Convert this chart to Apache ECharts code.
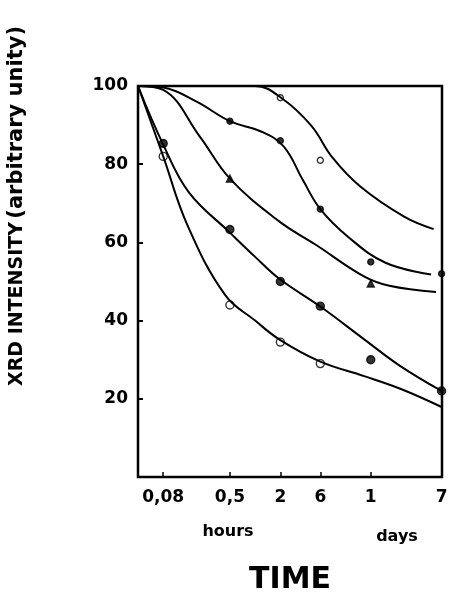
<!DOCTYPE html>
<html>
<head>
<meta charset="utf-8">
<script src="https://cdn.jsdelivr.net/npm/echarts@6/dist/echarts.min.js"></script>
<style>
  html, body { margin: 0; padding: 0; background: #fff; }
  #chart { width: 451px; height: 600px; }
</style>
</head>
<body>
<div id="chart"></div>
<script>
// XRD intensity vs time (log time axis, hours), five decay curves + measured points
const tickHours = [0.08, 0.5, 2, 6, 24, 168];
const tickLabels = ["0,08", "0,5", "2", "6", "1", "7"];

// curves: [hours, intensity]
const curveA = [[0.04, 100], [1, 100], [2.1, 96.8], [4.7, 89.8], [8.3, 81.8], [18, 74.3], [60, 66.6], [135, 63.4]];
const curveB = [[0.04, 100], [0.08, 99.6], [0.2, 96], [0.5, 91], [1.2, 88.3], [2.2, 84.5], [3.7, 76], [6, 68.5],
  [12.9, 61.4], [36, 54.8], [126, 51.8]];
const curveC = [[0.04, 100], [0.08, 99], [0.22, 87], [0.5, 76.3], [1.9, 65.5], [5.3, 59.4], [19.9, 51.3],
  [40, 48.9], [144, 47.3]];
const curveD = [[0.04, 100], [0.08, 85], [0.162, 72.8], [0.5, 62.5], [1, 56.3], [2, 50.5], [6, 43.6],
  [19.5, 35.4], [53, 28.5], [168, 22]];
const curveE = [[0.04, 100], [0.08, 82], [0.155, 64.5], [0.44, 46.5], [1, 40], [2, 35], [6, 29.5],
  [20, 25.8], [55, 22.5], [168, 17.9]];

// measured points
const markA = [[2, 97], [6, 81]];
const markB = [[0.5, 91], [2, 86], [6, 68.5], [24, 55], [168, 52]];
const markC = [[0.5, 76.3], [24, 49.5]];
const markD = [[0.08, 85.3], [0.5, 63.3], [2, 50], [6, 43.7], [24, 30], [168, 22]];
const markE = [[0.08, 82], [0.5, 44], [2, 34.5], [6, 29]];

const FONT = "DejaVu Sans";
const chart = echarts.init(document.getElementById("chart"));

function tickName(v) {
  const i = tickHours.findIndex(h => Math.abs(h - v) / h < 1e-3);
  return i < 0 ? "" : tickLabels[i];
}

const lineSeries = (data) => ({
  type: "line", data, smooth: 0.4, showSymbol: false, silent: true,
  lineStyle: { color: "#000", width: 2 },
});
const markSeries = (data, symbol, size, fill) => ({
  type: "scatter", data, symbol, symbolSize: size, silent: true,
  itemStyle: { color: fill, borderColor: "#000", borderWidth: 1.4 },
});

chart.setOption({
  animation: false,
  backgroundColor: "#fff",
  grid: { left: 138, right: 9, top: 86, bottom: 123, show: true, borderColor: "#000", borderWidth: 2.5 },
  xAxis: {
    type: "log", logBase: 10, min: 0.04, max: 170,
    axisLine: { show: false },
    splitLine: { show: false },
    axisTick: { show: true, inside: true, length: 5, customValues: tickHours.slice(0, 5), lineStyle: { color: "#000", width: 1.5 } },
    axisLabel: { customValues: tickHours, formatter: tickName, color: "#000", fontFamily: FONT, fontWeight: "bold", fontSize: 17, margin: 12 },
    name: "TIME", nameLocation: "middle", nameGap: 88,
    nameTextStyle: { color: "#000", fontFamily: FONT, fontWeight: "bold", fontSize: 30 },
  },
  yAxis: {
    type: "value", min: 0, max: 100, interval: 20,
    axisLine: { show: false },
    splitLine: { show: false },
    axisTick: { show: true, inside: true, length: 5, lineStyle: { color: "#000", width: 2 } },
    axisLabel: { formatter: v => (v === 0 ? "" : String(v)), color: "#000", fontFamily: FONT, fontWeight: "bold", fontSize: 17, margin: 10 },
  },
  graphic: [
    {
      type: "text", x: 17, y: 386, rotation: Math.PI / 2,
      style: {
        text: "{a|XRD INTENSITY} {b|(arbitrary unity)}",
        align: "left", verticalAlign: "middle", textAlign: "left", textVerticalAlign: "middle",
        fill: "#000",
        rich: {
          a: { fontFamily: FONT, fontWeight: "bold", fontSize: 19, fill: "#000" },
          b: { fontFamily: FONT, fontWeight: "bold", fontSize: 21, fill: "#000" },
        },
      },
    },
    { type: "text", x: 228, y: 532, style: { text: "hours", font: `bold 16px "${FONT}"`, align: "center", verticalAlign: "middle", textAlign: "center", textVerticalAlign: "middle", fill: "#000" } },
    { type: "text", x: 397, y: 537, style: { text: "days", font: `bold 16px "${FONT}"`, align: "center", verticalAlign: "middle", textAlign: "center", textVerticalAlign: "middle", fill: "#000" } },
  ],
  series: [
    lineSeries(curveA), lineSeries(curveB), lineSeries(curveC), lineSeries(curveD), lineSeries(curveE),
    markSeries(markA, "circle", 6, "#fff"),
    markSeries(markB, "circle", 6, "#000"),
    markSeries(markC, "triangle", 7, "#000"),
    markSeries(markD, "circle", 8, "#000"),
    markSeries(markE, "circle", 8, "#fff"),
  ],
});
</script>
</body>
</html>
